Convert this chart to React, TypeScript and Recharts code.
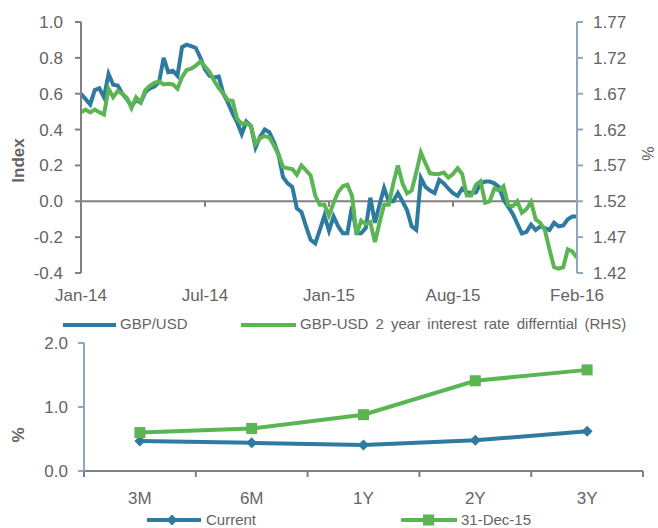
import React from 'react';
import { LineChart, Line, XAxis, YAxis, ReferenceLine } from 'recharts';

const FONT = '"Liberation Sans", Arial, Helvetica, sans-serif';
const BLUE = '#2f7a9f';
const GREEN = '#5ab552';
const AXIS_GREY = '#808080';
const AXIS_BLUEGREY = '#8ea7be';
const TEXT = '#646464';

// ---------- Top chart data (weekly) ----------
const gbpUsd = [
  0.60, 0.57, 0.54, 0.62, 0.63, 0.58, 0.71, 0.65, 0.645, 0.60,
  0.57, 0.53, 0.565, 0.55, 0.61, 0.63, 0.64, 0.665, 0.80, 0.72,
  0.728, 0.70, 0.86, 0.873, 0.865, 0.855, 0.80, 0.735, 0.70, 0.69,
  0.695, 0.60, 0.55, 0.49, 0.44, 0.375, 0.445, 0.42, 0.30, 0.36,
  0.40, 0.385, 0.33, 0.26, 0.135, 0.10, 0.08, -0.04, -0.06, -0.14,
  -0.215, -0.235, -0.16, -0.08, -0.165, -0.085, -0.14, -0.178, -0.178, -0.03,
  -0.178, -0.178, -0.15, 0.02, -0.12, -0.02, 0.074, 0.0, 0.0, 0.046,
  0.0, -0.05, -0.14, -0.16, 0.13, 0.08, 0.06, 0.046, 0.12, 0.10,
  0.07, 0.045, 0.03, 0.07, 0.05, 0.046, 0.05, 0.10, 0.11, 0.11,
  0.10, 0.08, 0.01, -0.03, -0.07, -0.125, -0.18, -0.17, -0.13, -0.16,
  -0.14, -0.15, -0.16, -0.12, -0.14, -0.135, -0.10, -0.085, -0.085,
];

const rateDiff = [
  1.644, 1.648, 1.644, 1.648, 1.644, 1.641, 1.677, 1.665, 1.674, 1.670,
  1.664, 1.650, 1.665, 1.658, 1.675, 1.681, 1.685, 1.687, 1.683, 1.684,
  1.683, 1.677, 1.693, 1.703, 1.705, 1.709, 1.715, 1.708, 1.700, 1.688,
  1.678, 1.670, 1.661, 1.660, 1.635, 1.628, 1.629, 1.625, 1.600, 1.608,
  1.611, 1.609, 1.598, 1.585, 1.568, 1.566, 1.565, 1.557, 1.570, 1.563,
  1.556, 1.528, 1.515, 1.515, 1.500, 1.518, 1.533, 1.541, 1.543, 1.528,
  1.474, 1.493, 1.488, 1.491, 1.463, 1.490, 1.515, 1.515, 1.545, 1.570,
  1.545, 1.531, 1.535, 1.560, 1.588, 1.573, 1.559, 1.558, 1.558, 1.560,
  1.553, 1.558, 1.566, 1.558, 1.528, 1.528, 1.543, 1.548, 1.518, 1.520,
  1.538, 1.535, 1.541, 1.515, 1.513, 1.520, 1.504, 1.509, 1.519, 1.495,
  1.490, 1.480, 1.453, 1.428, 1.426, 1.428, 1.453, 1.450, 1.441,
];

const weeks = gbpUsd.map((_, i) => i);
const xTickWeeks = [0, 27, 54, 81, 108];
const xTickLabels = ['Jan-14', 'Jul-14', 'Jan-15', 'Aug-15', 'Feb-16'];
const leftTicks = [-0.4, -0.2, 0, 0.2, 0.4, 0.6, 0.8, 1.0];
const rightTicks = [1.42, 1.47, 1.52, 1.57, 1.62, 1.67, 1.72, 1.77];

const seriesTop = { gbp: 'GBP/USD', diff: 'GBP-USD 2 year interest rate differntial (RHS)' };

const topData = weeks.map((w, i) => ({ week: w, gbp: gbpUsd[i], diff: rateDiff[i] }));

// ---------- Bottom chart data ----------
const tenors = ['3M', '6M', '1Y', '2Y', '3Y'];
const current = [0.47, 0.44, 0.405, 0.48, 0.62];
const dec31 = [0.60, 0.665, 0.88, 1.41, 1.58];
const bottomTicks = [0, 1, 2];
const seriesBottom = { current: 'Current', dec: '31-Dec-15' };

const bottomData = tenors.map((t, i) => ({ tenor: t, current: current[i], dec: dec31[i] }));

const tickStyle = { fill: TEXT, fontSize: 17, fontFamily: FONT };

const TICK_SIZE = 6;
const TENOR_TICK_MARGIN = 15;
const BOTTOM_PLOT_WIDTH = 559;

const TenorTick = (props: any) => {
  const { x, y, payload, index, visibleTicksCount, width } = props;
  const count = visibleTicksCount || tenors.length;
  let half = 0;
  if (payload && typeof payload.offset === 'number' && payload.offset > 0) half = payload.offset;
  else if (Number(width) > 0) half = Number(width) / count / 2;
  else half = BOTTOM_PLOT_WIDTH / count / 2;
  const axisY = Number(y) - TENOR_TICK_MARGIN - TICK_SIZE;
  const cx = Number(x);
  return (
    <g>
      <line x1={cx - half} y1={axisY} x2={cx - half} y2={axisY + TICK_SIZE} stroke={AXIS_GREY} strokeWidth={2} />
      {index === count - 1 && (
        <line x1={cx + half} y1={axisY} x2={cx + half} y2={axisY + TICK_SIZE} stroke={AXIS_GREY} strokeWidth={2} />
      )}
      <text x={cx} y={y} dy="0.71em" textAnchor="middle" fill={TEXT} fontSize={17} fontFamily={FONT}>
        {payload ? payload.value : ''}
      </text>
    </g>
  );
};

const Diamond = (props: any) => {
  const { cx, cy } = props;
  if (cx == null || cy == null) return null;
  const r = 5.5;
  return <path d={`M${cx},${cy - r}L${cx + r},${cy}L${cx},${cy + r}L${cx - r},${cy}Z`} fill={BLUE} />;
};

const Square = (props: any) => {
  const { cx, cy } = props;
  if (cx == null || cy == null) return null;
  const s = 11;
  return <rect x={cx - s / 2} y={cy - s / 2} width={s} height={s} fill={GREEN} />;
};

const rotatedLabel = (text: string, dx: number, dy: number, bold: boolean, size = 17) => (props: any) => {
  const vb = props.viewBox || {};
  const x = vb.x + dx;
  const y = vb.y + vb.height / 2 + dy;
  return (
    <text
      x={x}
      y={y}
      transform={`rotate(-90 ${x} ${y})`}
      textAnchor="middle"
      dominantBaseline="central"
      fill={TEXT}
      fontFamily={FONT}
      fontSize={size}
      fontWeight={bold ? 'bold' : 'normal'}
    >
      {text}
    </text>
  );
};

const legendText: React.CSSProperties = {
  position: 'absolute',
  fontFamily: FONT,
  fontSize: 15,
  color: TEXT,
  lineHeight: '18px',
  whiteSpace: 'nowrap',
};

export default function App() {
  return (
    <div style={{ position: 'absolute', left: 0, top: 0, width: 658, height: 528, background: '#fff', overflow: 'hidden' }}>
      <div style={{ position: 'absolute', left: 0, top: 0 }}>
        <LineChart width={658} height={310} data={topData} margin={{ top: 22, right: 0, bottom: 0, left: 0 }}>
          <XAxis
            dataKey="week"
            type="category"
            ticks={xTickWeeks}
            interval={0}
            tickFormatter={(v: any) => xTickLabels[xTickWeeks.indexOf(Number(v))] ?? ''}
            axisLine={false}
            tickLine={false}
            tickSize={6}
            tickMargin={10}
            height={37}
            tick={tickStyle}
          />
          <YAxis
            yAxisId="left"
            domain={[-0.4, 1.0]}
            ticks={leftTicks}
            interval={0}
            tickFormatter={(v: any) => Number(v).toFixed(1)}
            axisLine={{ stroke: AXIS_GREY, strokeWidth: 2 }}
            tickLine={{ stroke: AXIS_GREY, strokeWidth: 2 }}
            tickSize={6}
            tickMargin={12}
            width={81}
            tick={tickStyle}
            label={rotatedLabel('Index', 18, 13, true)}
          />
          <YAxis
            yAxisId="right"
            orientation="right"
            domain={[1.42, 1.77]}
            ticks={rightTicks}
            interval={0}
            tickFormatter={(v: any) => Number(v).toFixed(2)}
            axisLine={{ stroke: AXIS_BLUEGREY, strokeWidth: 2 }}
            tickLine={{ stroke: AXIS_BLUEGREY, strokeWidth: 2 }}
            tickSize={6}
            tickMargin={10}
            width={81}
            tick={tickStyle}
            label={rotatedLabel('%', 71, 6, false, 16)}
          />
          <ReferenceLine yAxisId="left" y={0} stroke={AXIS_GREY} strokeWidth={2} />
          {xTickWeeks.slice(1).map((w) => (
            <ReferenceLine
              key={w}
              yAxisId="left"
              segment={[{ x: w, y: 0 }, { x: w, y: -0.03 }]}
              stroke={AXIS_GREY}
              strokeWidth={2}
            />
          ))}
          <Line
            yAxisId="left"
            dataKey="gbp"
            name={seriesTop.gbp}
            stroke={BLUE}
            strokeWidth={4}
            dot={false}
            isAnimationActive={false}
          />
          <Line
            yAxisId="right"
            dataKey="diff"
            name={seriesTop.diff}
            stroke={GREEN}
            strokeWidth={4}
            dot={false}
            isAnimationActive={false}
          />
        </LineChart>
      </div>

      {/* Top legend */}
      <div style={{ position: 'absolute', left: 0, top: 315, width: 658, height: 20 }}>
        <svg style={{ position: 'absolute', left: 63, top: 7 }} width={53} height={6}>
          <line x1={0} y1={3} x2={53} y2={3} stroke={BLUE} strokeWidth={4} strokeLinecap="round" />
        </svg>
        <span style={{ ...legendText, left: 120, top: 0 }}>{seriesTop.gbp}</span>
        <svg style={{ position: 'absolute', left: 241, top: 7 }} width={55} height={6}>
          <line x1={0} y1={3} x2={55} y2={3} stroke={GREEN} strokeWidth={4} strokeLinecap="round" />
        </svg>
        <span style={{ ...legendText, left: 300, top: 0, wordSpacing: 3 }}>{seriesTop.diff}</span>
      </div>

      <div style={{ position: 'absolute', left: 0, top: 330 }}>
        <LineChart width={658} height={198} data={bottomData} margin={{ top: 13, right: 15, bottom: 0, left: 0 }}>
          <XAxis
            dataKey="tenor"
            type="category"
            scale="band"
            interval={0}
            stroke={AXIS_GREY}
            axisLine={{ stroke: AXIS_GREY, strokeWidth: 2 }}
            tickLine={false}
            tickSize={TICK_SIZE}
            tickMargin={TENOR_TICK_MARGIN}
            height={57}
            tick={<TenorTick />}
          />
          <YAxis
            domain={[0, 2]}
            ticks={bottomTicks}
            interval={0}
            tickFormatter={(v: any) => Number(v).toFixed(1)}
            axisLine={{ stroke: AXIS_BLUEGREY, strokeWidth: 2 }}
            tickLine={{ stroke: AXIS_BLUEGREY, strokeWidth: 2 }}
            tickSize={6}
            tickMargin={10}
            width={84}
            tick={tickStyle}
            label={rotatedLabel('%', 18, 28, true)}
          />
          <ReferenceLine y={0} stroke={AXIS_GREY} strokeWidth={2} />
          <Line
            dataKey="current"
            name={seriesBottom.current}
            stroke={BLUE}
            strokeWidth={4}
            dot={<Diamond />}
            isAnimationActive={false}
          />
          <Line
            dataKey="dec"
            name={seriesBottom.dec}
            stroke={GREEN}
            strokeWidth={4}
            dot={<Square />}
            isAnimationActive={false}
          />
        </LineChart>
      </div>

      {/* Bottom legend */}
      <div style={{ position: 'absolute', left: 0, top: 511, width: 658, height: 18 }}>
        <svg style={{ position: 'absolute', left: 147, top: 3 }} width={54} height={12}>
          <line x1={0} y1={6} x2={54} y2={6} stroke={BLUE} strokeWidth={4} />
          <path d="M25,0.5L30.5,6L25,11.5L19.5,6Z" fill={BLUE} />
        </svg>
        <span style={{ ...legendText, left: 206, top: 0 }}>{seriesBottom.current}</span>
        <svg style={{ position: 'absolute', left: 401, top: 3 }} width={56} height={12}>
          <line x1={0} y1={6} x2={56} y2={6} stroke={GREEN} strokeWidth={4} />
          <rect x={22} y={0.5} width={11} height={11} fill={GREEN} />
        </svg>
        <span style={{ ...legendText, left: 461, top: 0 }}>{seriesBottom.dec}</span>
      </div>
    </div>
  );
}
